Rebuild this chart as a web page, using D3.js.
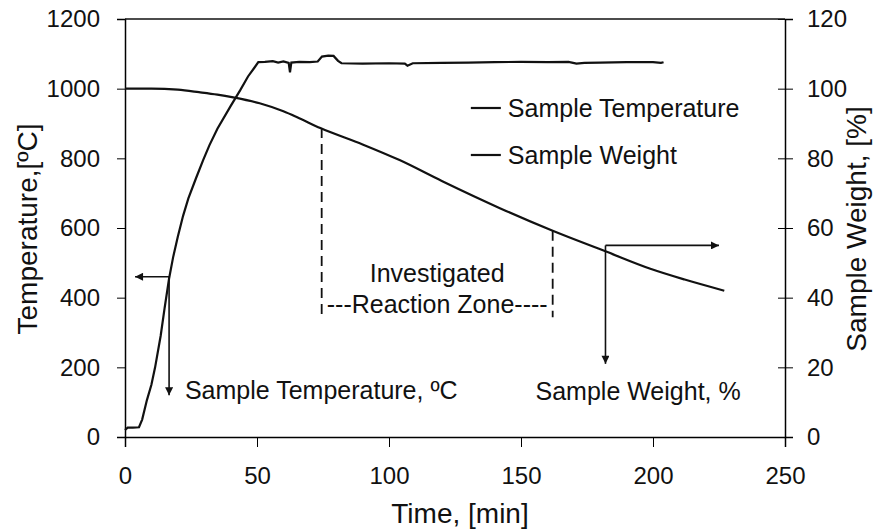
<!DOCTYPE html>
<html>
<head>
<meta charset="utf-8">
<script src="https://cdn.jsdelivr.net/npm/d3@7"></script>
<style>
  body { margin: 0; background: #fff; }
  text { font-family: "Liberation Sans", Arial, sans-serif; fill: #111; }
</style>
</head>
<body>
<svg id="chart" width="890" height="530"></svg>
<script>
// Sample temperature [min, °C]
const tempTime = [0, 1, 3, 5.3, 6.5, 8.3, 10, 11.4, 13.5, 15, 16.7, 18.2, 20, 22, 24, 27, 29.6, 32, 35, 40, 43.6, 46.6, 49, 50.5,
  53, 56, 58, 60, 62, 62.5, 63, 66, 70, 73, 74.6, 77, 79, 80.7, 82, 90, 100, 106, 107, 109, 120, 130, 140, 150, 160, 168, 171, 174, 180, 190, 200, 203, 204];
const tempValues = [20, 27, 27, 28, 50, 106, 150, 200, 290, 370, 455, 515, 575, 635, 685, 745, 795, 838, 885, 950, 995, 1035, 1060, 1076,
  1077, 1079, 1075, 1078, 1074, 1047, 1075, 1077, 1076, 1078, 1092, 1095, 1094, 1080, 1073, 1072, 1073, 1072, 1066, 1073, 1074, 1075, 1076, 1077, 1076, 1077, 1072, 1074, 1075, 1076, 1076, 1074, 1076];

// Sample weight [min, %]
const weightTime = [0, 10, 20, 28, 35, 41, 51, 60, 66, 74, 90, 104, 120, 142, 162, 182, 199, 212, 227];
const weightValues = [100, 100, 99.7, 99, 98.3, 97.5, 95.8, 93.5, 91.5, 88.7, 84, 79.5, 73.5, 65.7, 59.2, 53.3, 48.3, 45.2, 42];

const xTicks = [0, 50, 100, 150, 200, 250];
const tempTicks = [0, 200, 400, 600, 800, 1000, 1200];
const weightTicks = [0, 20, 40, 60, 80, 100, 120];
const legendLabels = ["Sample Temperature", "Sample Weight"];

// reaction zone bounds (min)
const zoneStart = 74.5, zoneEnd = 162;

const margin = { top: 19, right: 105, bottom: 93, left: 125 };
const width = 890 - margin.left - margin.right;
const height = 530 - margin.top - margin.bottom;

const svg = d3.select("#chart");
const g = svg.append("g").attr("transform", `translate(${margin.left},${margin.top})`);

const x = d3.scaleLinear().domain([0, 250]).range([0, width]);
const yT = d3.scaleLinear().domain([0, 1200]).range([height, 0]);
const yW = d3.scaleLinear().domain([0, 120]).range([height, 0]);

// arrow marker
svg.append("defs").append("marker")
  .attr("id", "arrow")
  .attr("viewBox", "0 0 10 10")
  .attr("refX", 10).attr("refY", 5)
  .attr("markerWidth", 10).attr("markerHeight", 8)
  .attr("markerUnits", "userSpaceOnUse")
  .attr("orient", "auto")
  .append("path").attr("d", "M0,0 L10,5 L0,10 z").attr("fill", "#111");

// axes
const axisFont = g => g.selectAll("text").style("font-size", "24px").attr("fill", "#111");
const fmt = d3.format("d");

g.append("g")
  .attr("transform", `translate(0,${height})`)
  .call(d3.axisBottom(x).tickValues(xTicks).tickFormat(fmt).tickSize(10).tickPadding(20))
  .call(axisFont)
  .call(a => a.select(".domain").attr("stroke-width", 1.5));

g.append("g")
  .call(d3.axisLeft(yT).tickValues(tempTicks).tickFormat(fmt).tickSize(8).tickPadding(17))
  .call(axisFont)
  .call(a => a.select(".domain").attr("stroke-width", 1.5));

const right = g.append("g")
  .attr("transform", `translate(${width},0)`)
  .call(d3.axisRight(yW).tickValues(weightTicks).tickFormat(fmt).tickSize(8).tickPadding(14))
  .call(axisFont)
  .call(a => a.select(".domain").attr("stroke-width", 1.5));
right.selectAll(".tick line").attr("x1", -7);

// top border
g.append("line")
  .attr("x1", 0).attr("x2", width).attr("y1", 0).attr("y2", 0)
  .attr("stroke", "#111").attr("stroke-width", 1.5);

// axis titles
svg.append("text")
  .attr("transform", `translate(${margin.left + width / 2 + 5},523)`)
  .attr("text-anchor", "middle").style("font-size", "28px")
  .text("Time, [min]");

svg.append("text")
  .attr("transform", `translate(37,${margin.top + 210}) rotate(-90)`)
  .attr("text-anchor", "middle").style("font-size", "28px")
  .text("Temperature,[ºC]");

svg.append("text")
  .attr("transform", `translate(866,${margin.top + 210}) rotate(-90)`)
  .attr("text-anchor", "middle").style("font-size", "28px")
  .text("Sample Weight, [%]");

// curves
const tempData = tempTime.map((t, i) => ({ t, v: tempValues[i] }));
const weightData = weightTime.map((t, i) => ({ t, v: weightValues[i] }));

g.append("path")
  .datum(tempData)
  .attr("fill", "none").attr("stroke", "#111").attr("stroke-width", 2.2)
  .attr("d", d3.line().x(d => x(d.t)).y(d => yT(d.v)));

g.append("path")
  .datum(weightData)
  .attr("fill", "none").attr("stroke", "#111").attr("stroke-width", 2.2)
  .attr("d", d3.line().curve(d3.curveMonotoneX).x(d => x(d.t)).y(d => yW(d.v)));

// reaction zone dashed lines
const zoneBottom = 34.4;
[[zoneStart, 88.7], [zoneEnd, 59.2]].forEach(([t, w]) => {
  g.append("line")
    .attr("x1", x(t)).attr("x2", x(t))
    .attr("y1", yW(w)).attr("y2", yW(zoneBottom))
    .attr("stroke", "#111").attr("stroke-width", 1.8)
    .attr("stroke-dasharray", "10,6");
});

const zoneMid = (zoneStart + zoneEnd) / 2;
g.append("text")
  .attr("x", x(zoneMid)).attr("y", yW(zoneBottom) - 35)
  .attr("text-anchor", "middle").style("font-size", "25px")
  .text("Investigated");
g.append("text")
  .attr("x", x(zoneMid)).attr("y", yW(zoneBottom) - 4)
  .attr("text-anchor", "middle").style("font-size", "25px")
  .text("---Reaction Zone----");

// annotation arrows
const arrow = (x1, y1, x2, y2) => g.append("line")
  .attr("x1", x1).attr("y1", y1).attr("x2", x2).attr("y2", y2)
  .attr("stroke", "#111").attr("stroke-width", 1.6)
  .attr("marker-end", "url(#arrow)");

arrow(x(16.7), yT(460), x(3.8), yT(460));
arrow(x(16.7), yT(460), x(16.7), yT(120));
g.append("text")
  .attr("x", x(22.7)).attr("y", yT(110))
  .style("font-size", "25px")
  .text("Sample Temperature, ºC");

arrow(x(182), yW(55), x(225), yW(55));
arrow(x(182), yW(55), x(182), yW(21));
g.append("text")
  .attr("x", x(155.5)).attr("y", yW(10.5))
  .style("font-size", "25px")
  .text("Sample Weight, %");

// legend
const legend = g.selectAll(".legend")
  .data(legendLabels)
  .join("g")
  .attr("class", "legend")
  .attr("transform", (d, i) => `translate(${x(131)},${89 + i * 47})`);
legend.append("line")
  .attr("x1", 0).attr("x2", 30)
  .attr("stroke", "#111").attr("stroke-width", 2.2);
legend.append("text")
  .attr("x", 37).attr("dy", "0.35em")
  .style("font-size", "25px")
  .text(d => d);
</script>
</body>
</html>
